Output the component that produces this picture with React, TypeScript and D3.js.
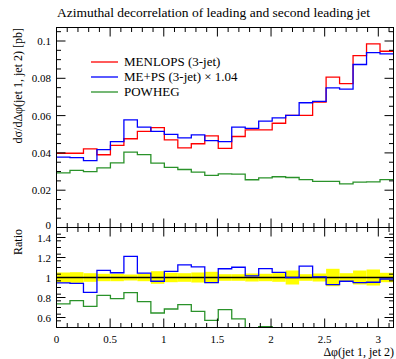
import * as d3 from 'd3'

// 25 bins of dphi between 0 and pi
const nBins = 25
const menlops = [
  0.0398, 0.0398, 0.0422, 0.039, 0.044, 0.0476, 0.0515, 0.0535, 0.047, 0.0427,
  0.0449, 0.0491, 0.0424, 0.0488, 0.0524, 0.0524, 0.0559, 0.0601, 0.0601, 0.0672,
  0.0806, 0.0771, 0.0922, 0.0985, 0.0945,
]
const meps = [
  0.0377, 0.0375, 0.0359, 0.0418, 0.0461, 0.0577, 0.0538, 0.0515, 0.0499, 0.0481,
  0.0497, 0.0466, 0.0461, 0.0538, 0.0532, 0.057, 0.0588, 0.0601, 0.0669, 0.0676,
  0.0749, 0.0742, 0.0874, 0.0938, 0.0931,
]
const powheg = [
  0.0293, 0.0306, 0.03, 0.032, 0.0347, 0.0404, 0.0391, 0.0345, 0.0322, 0.0311,
  0.0297, 0.028, 0.0288, 0.0286, 0.0256, 0.0266, 0.0272, 0.0268, 0.0257, 0.0247,
  0.0247, 0.0234, 0.0243, 0.0245, 0.0257,
]
// relative uncertainty of the reference (MENLOPS), yellow band
const refErr = [
  0.05, 0.053, 0.043, 0.037, 0.037, 0.03, 0.037, 0.063, 0.047, 0.043,
  0.05, 0.057, 0.033, 0.033, 0.04, 0.037, 0.043, 0.07, 0.033, 0.04,
  0.087, 0.043, 0.07, 0.08, 0.047,
]

const legendLabels = ['MENLOPS (3-jet)', 'ME+PS (3-jet) × 1.04', 'POWHEG']
const colors = ['#ff0000', '#0000ff', '#2a922a']
const xTickLabels = ['0', '0.5', '1', '1.5', '2', '2.5', '3']
const yTicks = [0, 0.02, 0.04, 0.06, 0.08, 0.1]
const ratioTicks = [0.6, 0.8, 1, 1.2, 1.4]

const font = "'Liberation Serif', 'DejaVu Serif', serif"

const dims = {
  width: 396,
  height: 359,
  left: 56.5,
  right: 393.5,
  top: 27.5,
  mid: 227.5,
  bottom: 327.5,
  major: 9,
  minor: 4.5,
}

const binEdge = (i: number) => (i * Math.PI) / nBins

const x = d3.scaleLinear().domain([0, Math.PI]).range([dims.left, dims.right])
const y = d3.scaleLinear().domain([0, 0.10724]).range([dims.mid, dims.top])
const yr = d3.scaleLinear().domain([0.5, 1.5]).range([dims.bottom, dims.mid])

const stepLine = d3
  .line<[number, number]>()
  .x((d) => d[0])
  .y((d) => d[1])

const histPath = (values: number[], scale: d3.ScaleLinear<number, number>) => {
  const pts: [number, number][] = []
  values.forEach((v, i) => {
    pts.push([x(binEdge(i)), scale(v)])
    pts.push([x(binEdge(i + 1)), scale(v)])
  })
  return stepLine(pts) ?? ''
}

const xMajor = d3.range(0, 3.01, 0.5)
const xMinor = d3.range(0.1, Math.PI, 0.1).filter((v) => Math.abs(v * 2 - Math.round(v * 2)) > 0.01)
const yMinor = d3.range(0.005, 0.107, 0.005).filter((v) => Math.abs(v * 50 - Math.round(v * 50)) > 0.01)
const rMinor = d3.range(0.5 + 0.2 / 3, 1.5, 0.2 / 3).filter((v) => Math.abs(v * 5 - Math.round(v * 5)) > 0.01)

const XTicks = ({ y0, y1 }: { y0: number; y1: number }) => (
  <g stroke="black" strokeWidth={1}>
    {xMajor.map((v) => (
      <g key={'M' + v}>
        <line x1={x(v)} x2={x(v)} y1={y0} y2={y0 - dims.major} />
        <line x1={x(v)} x2={x(v)} y1={y1} y2={y1 + dims.major} />
      </g>
    ))}
    {xMinor.map((v) => (
      <g key={'m' + v}>
        <line x1={x(v)} x2={x(v)} y1={y0} y2={y0 - dims.minor} />
        <line x1={x(v)} x2={x(v)} y1={y1} y2={y1 + dims.minor} />
      </g>
    ))}
  </g>
)

const YTicks = ({ scale, major, minor }: { scale: d3.ScaleLinear<number, number>; major: number[]; minor: number[] }) => (
  <g stroke="black" strokeWidth={1}>
    {major.map((v) => (
      <g key={'M' + v}>
        <line x1={dims.left} x2={dims.left + dims.major} y1={scale(v)} y2={scale(v)} />
        <line x1={dims.right} x2={dims.right - dims.major} y1={scale(v)} y2={scale(v)} />
      </g>
    ))}
    {minor.map((v) => (
      <g key={'m' + v}>
        <line x1={dims.left} x2={dims.left + dims.minor} y1={scale(v)} y2={scale(v)} />
        <line x1={dims.right} x2={dims.right - dims.minor} y1={scale(v)} y2={scale(v)} />
      </g>
    ))}
  </g>
)

export default function App() {
  const series = [menlops, meps, powheg]
  const ratios = [meps.map((v, i) => v / menlops[i]), powheg.map((v, i) => v / menlops[i])]

  return (
    <svg
      width={dims.width}
      height={dims.height}
      style={{ position: 'absolute', left: 0, top: 0, background: 'white' }}
      fontFamily={font}
    >
      <defs>
        <clipPath id="mainClip">
          <rect x={dims.left} y={dims.top} width={dims.right - dims.left} height={dims.mid - dims.top} />
        </clipPath>
        <clipPath id="ratioClip">
          <rect x={dims.left} y={dims.mid} width={dims.right - dims.left} height={dims.bottom - dims.mid} />
        </clipPath>
      </defs>

      <text x={57} y={17} fontSize={13.5}>
        Azimuthal decorrelation of leading and second leading jet
      </text>

      {/* main panel */}
      <g clipPath="url(#mainClip)" fill="none" strokeWidth={1.3}>
        {series.map((s, k) => (
          <path key={k} d={histPath(s, y)} stroke={colors[k]} />
        ))}
      </g>

      {/* ratio panel */}
      <g clipPath="url(#ratioClip)">
        {refErr.map((e, i) => (
          <rect
            key={i}
            x={x(binEdge(i))}
            width={x(binEdge(i + 1)) - x(binEdge(i))}
            y={yr(1 + e)}
            height={yr(1 - e) - yr(1 + e)}
            fill="#ffff00"
          />
        ))}
        <line x1={dims.left} x2={dims.right} y1={yr(1)} y2={yr(1)} stroke="black" strokeWidth={1.6} />
        {ratios.map((r, k) => (
          <path key={k} d={histPath(r, yr)} stroke={colors[k + 1]} fill="none" strokeWidth={1.3} />
        ))}
      </g>

      <XTicks y0={dims.mid} y1={dims.top} />
      <XTicks y0={dims.bottom} y1={dims.mid} />
      <YTicks scale={y} major={yTicks} minor={yMinor} />
      <YTicks scale={yr} major={ratioTicks} minor={rMinor} />

      <rect
        x={dims.left}
        y={dims.top}
        width={dims.right - dims.left}
        height={dims.bottom - dims.top}
        fill="none"
        stroke="black"
      />
      <line x1={dims.left} x2={dims.right} y1={dims.mid} y2={dims.mid} stroke="black" />

      {/* tick labels */}
      <g fontSize={11} textAnchor="end">
        {yTicks.map((v) => (
          <text key={v} x={51} y={y(v) + (v === 0 ? 1 : 4)}>
            {String(+v.toFixed(2))}
          </text>
        ))}
        {ratioTicks.map((v) => (
          <text key={v} x={51} y={yr(v) + 4}>
            {String(+v.toFixed(1))}
          </text>
        ))}
      </g>
      <g fontSize={11} textAnchor="middle">
        {xMajor.map((v, i) => (
          <text key={v} x={x(v)} y={343}>
            {xTickLabels[i]}
          </text>
        ))}
      </g>

      {/* axis labels */}
      <text transform={`translate(22, 28) rotate(-90)`} textAnchor="end" fontSize={12}>
        dσ/dΔφ(jet 1, jet 2) [pb]
      </text>
      <text transform={`translate(22, 229) rotate(-90)`} textAnchor="end" fontSize={12}>
        Ratio
      </text>
      <text x={394} y={356} textAnchor="end" fontSize={12}>
        Δφ(jet 1, jet 2)
      </text>

      {/* legend */}
      {legendLabels.map((label, k) => (
        <g key={label} transform={`translate(0, ${62 + k * 15})`}>
          <line x1={91} x2={118} y1={0} y2={0} stroke={colors[k]} strokeWidth={1.3} />
          <text x={124} y={4} fontSize={13}>
            {label}
          </text>
        </g>
      ))}
    </svg>
  )
}
